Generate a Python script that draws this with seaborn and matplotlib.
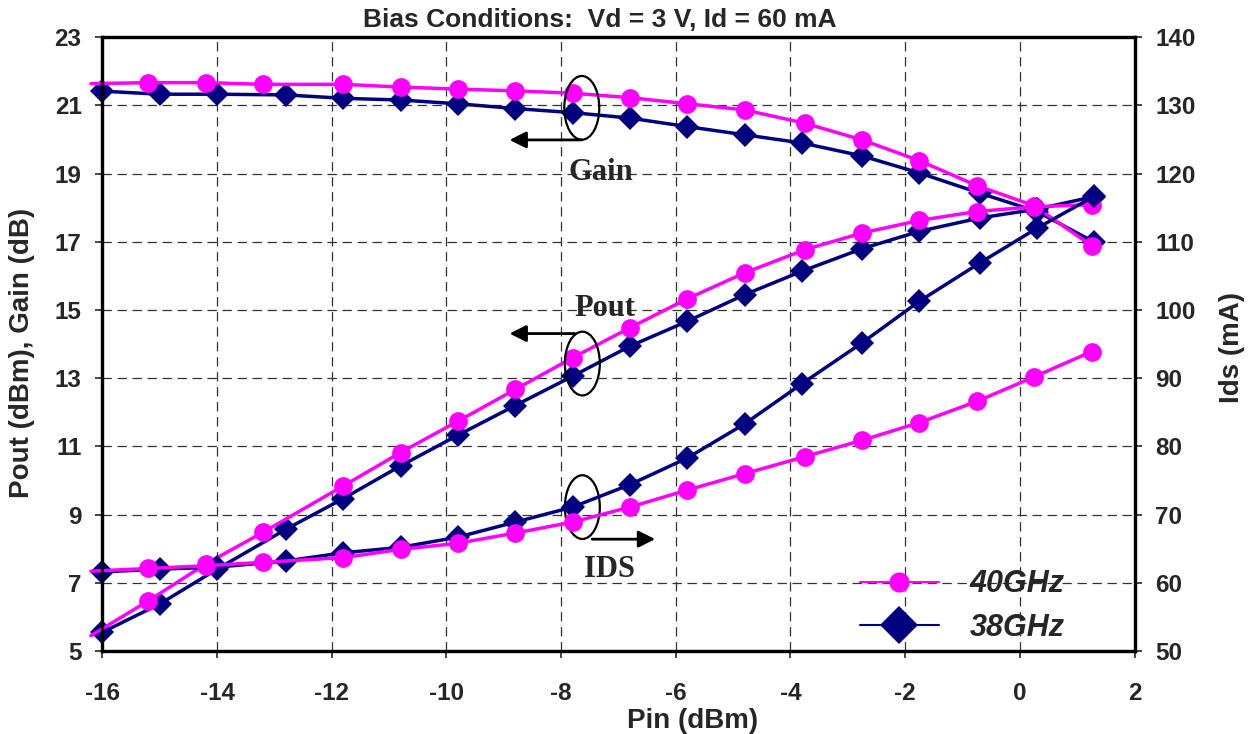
"""
Power sweep chart: Pout / Gain (left axis) and Ids (right axis) vs Pin.
"""
import numpy as np
import pandas as pd
import matplotlib
matplotlib.use("Agg")
import matplotlib.pyplot as plt
from matplotlib.lines import Line2D
from matplotlib.patches import Ellipse
import seaborn as sns

# --- data ---
pin_40 = [-16.2, -15.2, -14.2, -13.2, -11.8, -10.8, -9.8, -8.8, -7.8, -6.8,
          -5.8, -4.8, -3.75, -2.75, -1.75, -0.75, 0.25, 1.25]
gain_40 = [21.64, 21.67, 21.67, 21.62, 21.62, 21.54, 21.48, 21.43, 21.36, 21.23,
           21.05, 20.87, 20.48, 19.99, 19.38, 18.65, 18.06, 16.89]
pout_40 = [5.45, 6.47, 7.55, 8.48, 9.84, 10.82, 11.74, 12.67, 13.60, 14.48,
           15.33, 16.09, 16.77, 17.26, 17.63, 17.89, 18.03, 18.09]
ids_40 = [61.7, 62.1, 62.5, 63.0, 63.7, 64.9, 65.8, 67.3, 68.9, 71.1,
          73.6, 76.0, 78.5, 80.9, 83.5, 86.6, 90.2, 93.9]

pin_38 = [-16.0, -15.0, -14.0, -12.8, -11.8, -10.8, -9.8, -8.8, -7.8, -6.8,
          -5.8, -4.8, -3.8, -2.75, -1.75, -0.7, 0.3, 1.3]
gain_38 = [21.42, 21.33, 21.33, 21.31, 21.21, 21.16, 21.05, 20.91, 20.79, 20.63,
           20.38, 20.14, 19.90, 19.52, 19.02, 18.43, 17.89, 16.99]
pout_38 = [5.55, 6.38, 7.40, 8.57, 9.47, 10.43, 11.33, 12.20, 13.06, 13.94,
           14.67, 15.45, 16.14, 16.80, 17.31, 17.70, 17.96, 18.33]
ids_38 = [61.6, 62.0, 62.3, 63.2, 64.4, 65.2, 66.7, 68.9, 71.1, 74.4,
          78.3, 83.3, 89.2, 95.2, 101.3, 106.9, 112.0, 116.7]

x_ticks = list(range(-16, 3, 2))
left_ticks = list(range(5, 24, 2))
right_ticks = list(range(50, 141, 10))
labels = ["40GHz", "38GHz"]

MAGENTA = "#FF00FF"
NAVY = "#000080"

sns.set_style("white")
plt.rcParams["font.family"] = ["Liberation Sans", "DejaVu Sans"]
plt.rcParams["font.weight"] = "bold"
plt.rcParams["axes.unicode_minus"] = False

fig = plt.figure(figsize=(12.6, 7.34), dpi=100)
ax = fig.add_axes([0.0813, 0.1131, 0.8191, 0.8361])
ax2 = ax.twinx()

df40 = pd.DataFrame({"pin": pin_40, "gain": gain_40, "pout": pout_40, "ids": ids_40})
df38 = pd.DataFrame({"pin": pin_38, "gain": gain_38, "pout": pout_38, "ids": ids_38})

# first 40GHz point sits just left of the axis: line shown, marker not
skip_first = list(range(1, len(pin_40)))
style40 = dict(color=MAGENTA, marker="o", markersize=13.5, markeredgewidth=0,
               linewidth=2.5, markevery=skip_first, clip_on=False)
style38 = dict(color=NAVY, marker="D", markersize=12.5, markeredgewidth=0,
               linewidth=2.5, clip_on=False)

for col in ["gain", "pout"]:
    sns.lineplot(data=df38, x="pin", y=col, ax=ax, sort=False, **style38)
    sns.lineplot(data=df40, x="pin", y=col, ax=ax, sort=False, **style40)
sns.lineplot(data=df38, x="pin", y="ids", ax=ax2, sort=False, **style38)
sns.lineplot(data=df40, x="pin", y="ids", ax=ax2, sort=False, **style40)

ax.set_xlim(-16, 2)
ax.set_ylim(5, 23)
ax2.set_ylim(50, 140)
ax.set_xticks(x_ticks)
ax.set_yticks(left_ticks)
ax2.set_yticks(right_ticks)

ax.grid(True, linestyle=(0, (7.5, 4.5)), linewidth=0.9, color="#333333")
ax2.grid(False)

for a in (ax, ax2):
    for sp in a.spines.values():
        sp.set_linewidth(2.3)
        sp.set_color("black")

ax.tick_params(axis="x", direction="out", length=5, width=1.2, pad=17,
               labelsize=17.5, bottom=True)
ax.tick_params(axis="y", direction="out", length=5, width=1.2, pad=10,
               labelsize=17.5, left=True)
ax2.tick_params(axis="y", direction="out", length=5, width=1.2, pad=10,
                labelsize=17.5, right=True)

ax.set_xlabel("Pin (dBm)", fontsize=20, fontweight="bold")
ax.xaxis.set_label_coords(0.572, -0.093)
ax.set_ylabel("Pout (dBm), Gain (dB)", fontsize=20, fontweight="bold")
ax.yaxis.label.set_va("center")
ax.yaxis.set_label_coords(-0.078, 0.486)
ax2.set_ylabel("Ids (mA)", fontsize=20, fontweight="bold", rotation=90)
ax2.yaxis.label.set_va("center")
ax2.yaxis.set_label_coords(1.0945, 0.495)

fig.text(0.476, 0.973, "Bias Conditions:  Vd = 3 V, Id = 60 mA",
         fontsize=19, fontweight="bold", ha="center", va="center")

# group markers: ellipse + arrow pointing to the axis + label
serif = dict(family=["Liberation Serif", "DejaVu Serif"], fontweight="bold",
             fontsize=22, ha="center", va="center")
arrow = dict(arrowstyle="-|>", lw=2, color="black", shrinkA=0, shrinkB=0,
             mutation_scale=25)
groups = [
    # ellipse centre, arrow tail, arrow head, label pos, label
    ((-7.64, 20.93), (-7.64, 19.99), (-8.90, 19.99), (-7.30, 19.02), "Gain"),
    ((-7.63, 13.43), (-7.76, 14.31), (-8.90, 14.31), (-7.24, 15.05), "Pout"),
    ((-7.63, 9.22), (-7.46, 8.28), (-6.36, 8.28), (-7.15, 7.38), "IDS"),
]
for centre, tail, head, txt_pos, txt in groups:
    ax.add_patch(Ellipse(centre, 0.61, 1.87, fill=False, lw=1.6,
                         edgecolor="black", zorder=5))
    ax.annotate("", xy=head, xytext=tail, arrowprops=arrow, zorder=5)
    ax.text(*txt_pos, txt, zorder=5, **serif)

handles = [
    Line2D([], [], color=MAGENTA, lw=1.5, marker="o", markersize=14.5,
           markeredgewidth=0),
    Line2D([], [], color=NAVY, lw=1.5, marker="D", markersize=19,
           markeredgewidth=0),
]
leg = ax2.legend(handles, labels, loc="center", bbox_to_anchor=(0.833, 0.073),
                 frameon=False, handlelength=2.6, handletextpad=1.0,
                 labelspacing=0.45,
                 prop=dict(family="Liberation Sans", weight="bold",
                           style="italic", size=22))

fig.savefig("out.png", dpi=100)
